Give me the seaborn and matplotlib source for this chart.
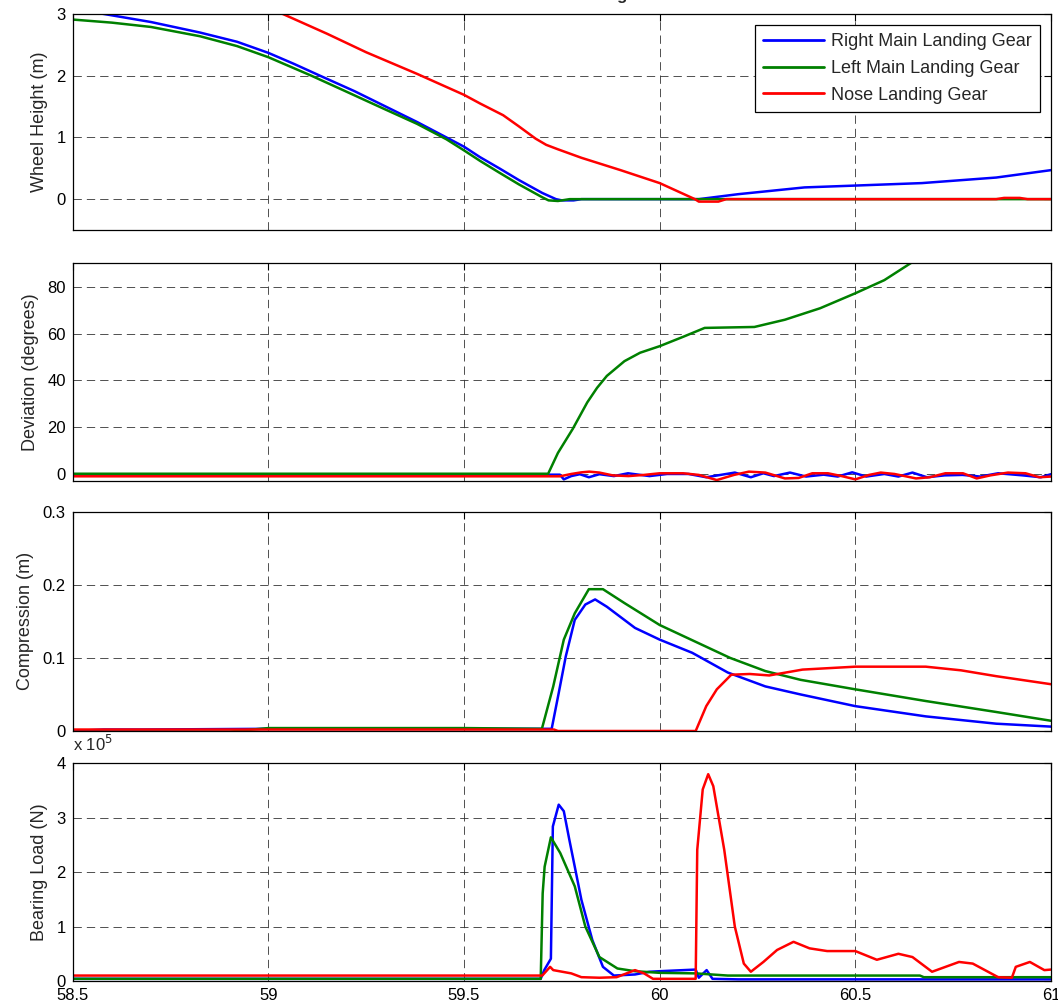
"""
Landing gear time histories: wheel height, deviation, compression and bearing load
for the right main, left main and nose gear (MATLAB-style 4 panel figure).
"""
import matplotlib
matplotlib.use("Agg")
import matplotlib.pyplot as plt
import matplotlib.ticker as mticker
import seaborn as sns

# ---- data (time in s) ----
SERIES = ["Right Main Landing Gear", "Left Main Landing Gear", "Nose Landing Gear"]
COLORS = ["#0000ff", "#008000", "#ff0000"]

# wheel height (m)
t_h_right = [58.5, 58.58, 58.7, 58.825, 58.92, 59.0, 59.066, 59.132, 59.22, 59.3,
             59.38, 59.455, 59.5, 59.541, 59.59, 59.64, 59.7, 59.735, 59.75, 59.78,
             59.8, 60.1, 60.2, 60.37, 60.5, 60.67, 60.86, 61.0]
h_right = [3.08, 3.0, 2.87, 2.70, 2.55, 2.37, 2.19, 2.0, 1.75, 1.5,
           1.25, 1.0, 0.85, 0.68, 0.50, 0.31, 0.10, 0.0, -0.02, -0.02,
           0.0, 0.0, 0.08, 0.19, 0.22, 0.26, 0.35, 0.47]
t_h_left = [58.5, 58.6, 58.7, 58.825, 58.92, 59.0, 59.11, 59.2, 59.3, 59.38,
            59.455, 59.5, 59.541, 59.59, 59.64, 59.7, 59.716, 59.74, 59.77, 61.0]
h_left = [2.91, 2.86, 2.79, 2.64, 2.48, 2.30, 2.0, 1.74, 1.45, 1.22,
          0.97, 0.79, 0.62, 0.43, 0.24, 0.03, -0.02, -0.03, 0.0, 0.0]
t_h_nose = [58.9, 59.037, 59.15, 59.25, 59.38, 59.5, 59.541, 59.6, 59.64, 59.683,
            59.71, 59.739, 59.8, 59.9, 60.0, 60.09, 60.1, 60.15, 60.17, 60.86,
            60.88, 60.92, 60.94, 61.0]
h_nose = [3.40, 3.0, 2.68, 2.38, 2.03, 1.69, 1.55, 1.36, 1.18, 0.98,
          0.88, 0.81, 0.67, 0.47, 0.26, 0.0, -0.04, -0.04, 0.0, 0.0,
          0.02, 0.02, 0.0, 0.0]

# deviation (degrees)
t_d_right = [58.5, 59.745, 59.755, 59.774, 59.796, 59.819, 59.846, 59.883, 59.919, 59.974,
             60.019, 60.074, 60.119, 60.192, 60.233, 60.265, 60.292, 60.333, 60.374, 60.419,
             60.455, 60.492, 60.528, 60.574, 60.61, 60.646, 60.683, 60.728, 60.774, 60.819,
             60.865, 60.928, 60.974, 61.0]
d_right = [-0.3, -0.3, -2.3, -0.9, -0.1, -1.4, -0.1, -0.9, 0.3, -0.9,
           0.0, 0.0, -1.4, 0.6, -1.4, 0.3, -0.9, 0.6, -1.1, -0.3,
           -1.1, 0.7, -1.1, 0.0, -1.1, 0.6, -1.4, -0.6, -0.4, -1.1,
           0.3, -0.6, -1.4, -0.1]
t_d_left = [58.5, 59.715, 59.74, 59.778, 59.815, 59.84, 59.865, 59.91, 59.95, 60.0,
            60.06, 60.115, 60.242, 60.32, 60.41, 60.5, 60.574, 60.64, 60.7]
d_left = [0.1, 0.1, 9.0, 19.3, 30.6, 36.8, 41.9, 48.2, 51.8, 54.6,
          58.6, 62.4, 62.8, 65.9, 70.8, 77.2, 82.8, 89.9, 96.0]
t_d_nose = [58.5, 59.745, 59.774, 59.80, 59.82, 59.846, 59.88, 59.92, 59.96, 60.0,
            60.06, 60.1, 60.146, 60.19, 60.228, 60.27, 60.32, 60.355, 60.39, 60.43,
            60.465, 60.5, 60.535, 60.565, 60.6, 60.655, 60.69, 60.73, 60.775, 60.81,
            60.845, 60.89, 60.935, 60.97, 61.0]
d_nose = [-1.0, -1.0, 0.0, 0.7, 1.0, 0.6, -0.6, -0.9, -0.4, 0.3,
          0.3, -0.4, -2.6, -0.4, 1.0, 0.6, -1.9, -1.7, 0.3, 0.3,
          -0.9, -2.3, -0.4, 0.6, 0.0, -1.9, -1.4, 0.3, 0.3, -1.9,
          -0.6, 0.6, 0.3, -1.4, -1.1]

# strut compression (m)
t_c_right = [58.5, 58.58, 58.68, 59.0, 59.5, 59.724, 59.742, 59.76, 59.783, 59.81,
             59.835, 59.865, 59.937, 60.0, 60.083, 60.1, 60.174, 60.27, 60.36, 60.5,
             60.68, 60.86, 61.0]
c_right = [0.0, 0.002, 0.002, 0.003, 0.003, 0.003, 0.052, 0.102, 0.152, 0.173,
           0.180, 0.170, 0.141, 0.125, 0.107, 0.102, 0.080, 0.061, 0.050, 0.034,
           0.020, 0.010, 0.006]
t_c_left = [58.5, 58.9, 59.0, 59.5, 59.699, 59.728, 59.755, 59.783, 59.819, 59.855,
            59.91, 60.0, 60.1, 60.18, 60.27, 60.36, 60.5, 60.68, 60.86, 61.0]
c_left = [-0.001, -0.001, 0.004, 0.004, 0.003, 0.061, 0.125, 0.161, 0.194, 0.194,
          0.175, 0.145, 0.120, 0.100, 0.082, 0.070, 0.057, 0.041, 0.026, 0.014]
t_c_nose = [58.5, 59.73, 59.74, 60.092, 60.119, 60.146, 60.183, 60.23, 60.28, 60.365,
            60.5, 60.68, 60.77, 60.86, 61.0]
c_nose = [0.002, 0.002, 0.0, 0.0, 0.034, 0.057, 0.077, 0.078, 0.076, 0.084,
          0.088, 0.088, 0.083, 0.075, 0.064]

# bearing load (N)
t_l_right = [58.5, 59.696, 59.705, 59.722, 59.727, 59.742, 59.755, 59.769, 59.783, 59.80,
             59.828, 59.855, 59.883, 59.937, 59.974, 60.0, 60.092, 60.10, 60.12, 60.135,
             60.2, 61.0]
l_right = [0.04e5, 0.04e5, 0.2e5, 0.41e5, 2.84e5, 3.24e5, 3.12e5, 2.6e5, 2.1e5, 1.49e5,
           0.75e5, 0.26e5, 0.10e5, 0.12e5, 0.17e5, 0.18e5, 0.21e5, 0.06e5, 0.2e5, 0.04e5,
           0.03e5, 0.03e5]
t_l_left = [58.5, 59.696, 59.701, 59.706, 59.722, 59.746, 59.783, 59.81, 59.846, 59.892,
            59.937, 60.0, 60.092, 60.174, 60.665, 60.675, 61.0]
l_left = [0.04e5, 0.04e5, 1.61e5, 2.1e5, 2.64e5, 2.35e5, 1.74e5, 1.0e5, 0.44e5, 0.23e5,
          0.18e5, 0.15e5, 0.14e5, 0.10e5, 0.10e5, 0.07e5, 0.07e5]
t_l_nose = [58.5, 59.70, 59.72, 59.728, 59.774, 59.80, 59.846, 59.89, 59.937, 59.96,
            59.983, 60.092, 60.096, 60.11, 60.124, 60.137, 60.165, 60.192, 60.215, 60.233,
            60.265, 60.30, 60.342, 60.383, 60.428, 60.5, 60.555, 60.61, 60.646, 60.696,
            60.765, 60.80, 60.865, 60.90, 60.91, 60.946, 60.983, 61.0]
l_nose = [0.10e5, 0.10e5, 0.26e5, 0.20e5, 0.14e5, 0.07e5, 0.06e5, 0.07e5, 0.20e5, 0.14e5,
          0.04e5, 0.04e5, 2.41e5, 3.52e5, 3.80e5, 3.58e5, 2.41e5, 1.0e5, 0.32e5, 0.17e5,
          0.35e5, 0.57e5, 0.72e5, 0.60e5, 0.55e5, 0.55e5, 0.39e5, 0.50e5, 0.44e5, 0.17e5,
          0.35e5, 0.32e5, 0.07e5, 0.06e5, 0.26e5, 0.35e5, 0.20e5, 0.21e5]

X_TICKS = [58.5, 59, 59.5, 60, 60.5, 61]

PANELS = [
    ("Wheel Height (m)", [(t_h_right, h_right), (t_h_left, h_left), (t_h_nose, h_nose)],
     (-0.5, 3), [0, 1, 2, 3]),
    ("Deviation (degrees)", [(t_d_right, d_right), (t_d_left, d_left), (t_d_nose, d_nose)],
     (-3, 90), [0, 20, 40, 60, 80]),
    ("Compression (m)", [(t_c_right, c_right), (t_c_left, c_left), (t_c_nose, c_nose)],
     (0, 0.3), [0, 0.1, 0.2, 0.3]),
    ("Bearing Load (N)", [(t_l_right, l_right), (t_l_left, l_left), (t_l_nose, l_nose)],
     (0, 4e5), [0, 1e5, 2e5, 3e5, 4e5]),
]

# axes boxes in figure pixels (top, bottom) measured from the top edge
W, H = 1058, 1007
LEFT, RIGHT = 72.7, 1051
BOXES = [(14, 230), (263.3, 481), (511.7, 731), (763.3, 981)]


def main() -> None:
    sns.set_style("white")
    plt.rcParams["font.family"] = ["Liberation Sans", "DejaVu Sans"]
    plt.rcParams["font.size"] = 12

    fig = plt.figure(figsize=(W / 100, H / 100), dpi=100)

    axes = []
    for (ylabel, series, ylim, yticks), (top, bot) in zip(PANELS, BOXES):
        ax = fig.add_axes([LEFT / W, 1 - bot / H, (RIGHT - LEFT) / W, (bot - top) / H])
        for (t, v), name, col in zip(series, SERIES, COLORS):
            sns.lineplot(x=t, y=v, ax=ax, color=col, linewidth=1.8, label=name,
                         estimator=None, sort=False, legend=False)
        ax.set_xlim(58.5, 61)
        ax.set_ylim(*ylim)
        ax.set_xticks(X_TICKS)
        ax.set_yticks(yticks)
        ax.set_ylabel(ylabel, fontsize=13, labelpad=6)
        ax.set_xlabel("")
        ax.grid(True, color="0.2", linestyle=(0, (10, 6)), linewidth=0.6)
        ax.tick_params(direction="in", top=True, right=True, length=5, width=0.8,
                       colors="black", labelsize=12, pad=5)
        for sp in ax.spines.values():
            sp.set_color("black")
            sp.set_linewidth(0.9)
        ax.yaxis.set_major_formatter(mticker.FuncFormatter(lambda v, _: f"{v:g}"))
        ax.xaxis.set_major_formatter(mticker.FuncFormatter(lambda v, _: f"{v:g}"))
        axes.append(ax)

    for ax in axes[:-1]:
        ax.tick_params(labelbottom=False)

    # bearing load shown in units of 1e5 N, MATLAB style exponent label
    axes[-1].yaxis.set_major_formatter(mticker.FuncFormatter(lambda v, _: f"{v / 1e5:g}"))
    axes[-1].text(0.0, 1.045, r"x 10$^5$", transform=axes[-1].transAxes,
                  ha="left", va="bottom", fontsize=12)

    leg = axes[0].legend(loc="upper right", fontsize=13, frameon=True, fancybox=False,
                         edgecolor="black", framealpha=1, handlelength=3.4,
                         handletextpad=0.4, labelspacing=0.55, borderpad=0.45,
                         borderaxespad=0.6)
    leg.get_frame().set_linewidth(0.9)
    for line in leg.get_lines():
        line.set_linewidth(2.0)

    # title sits above the top edge; only its descender shows in the reference
    fig.text(0.532, 1.0, "Aircraft Landing", ha="center", va="baseline",
             fontsize=12, fontweight="bold")

    fig.savefig("out.png", dpi=100)
    plt.close(fig)


if __name__ == "__main__":
    main()
